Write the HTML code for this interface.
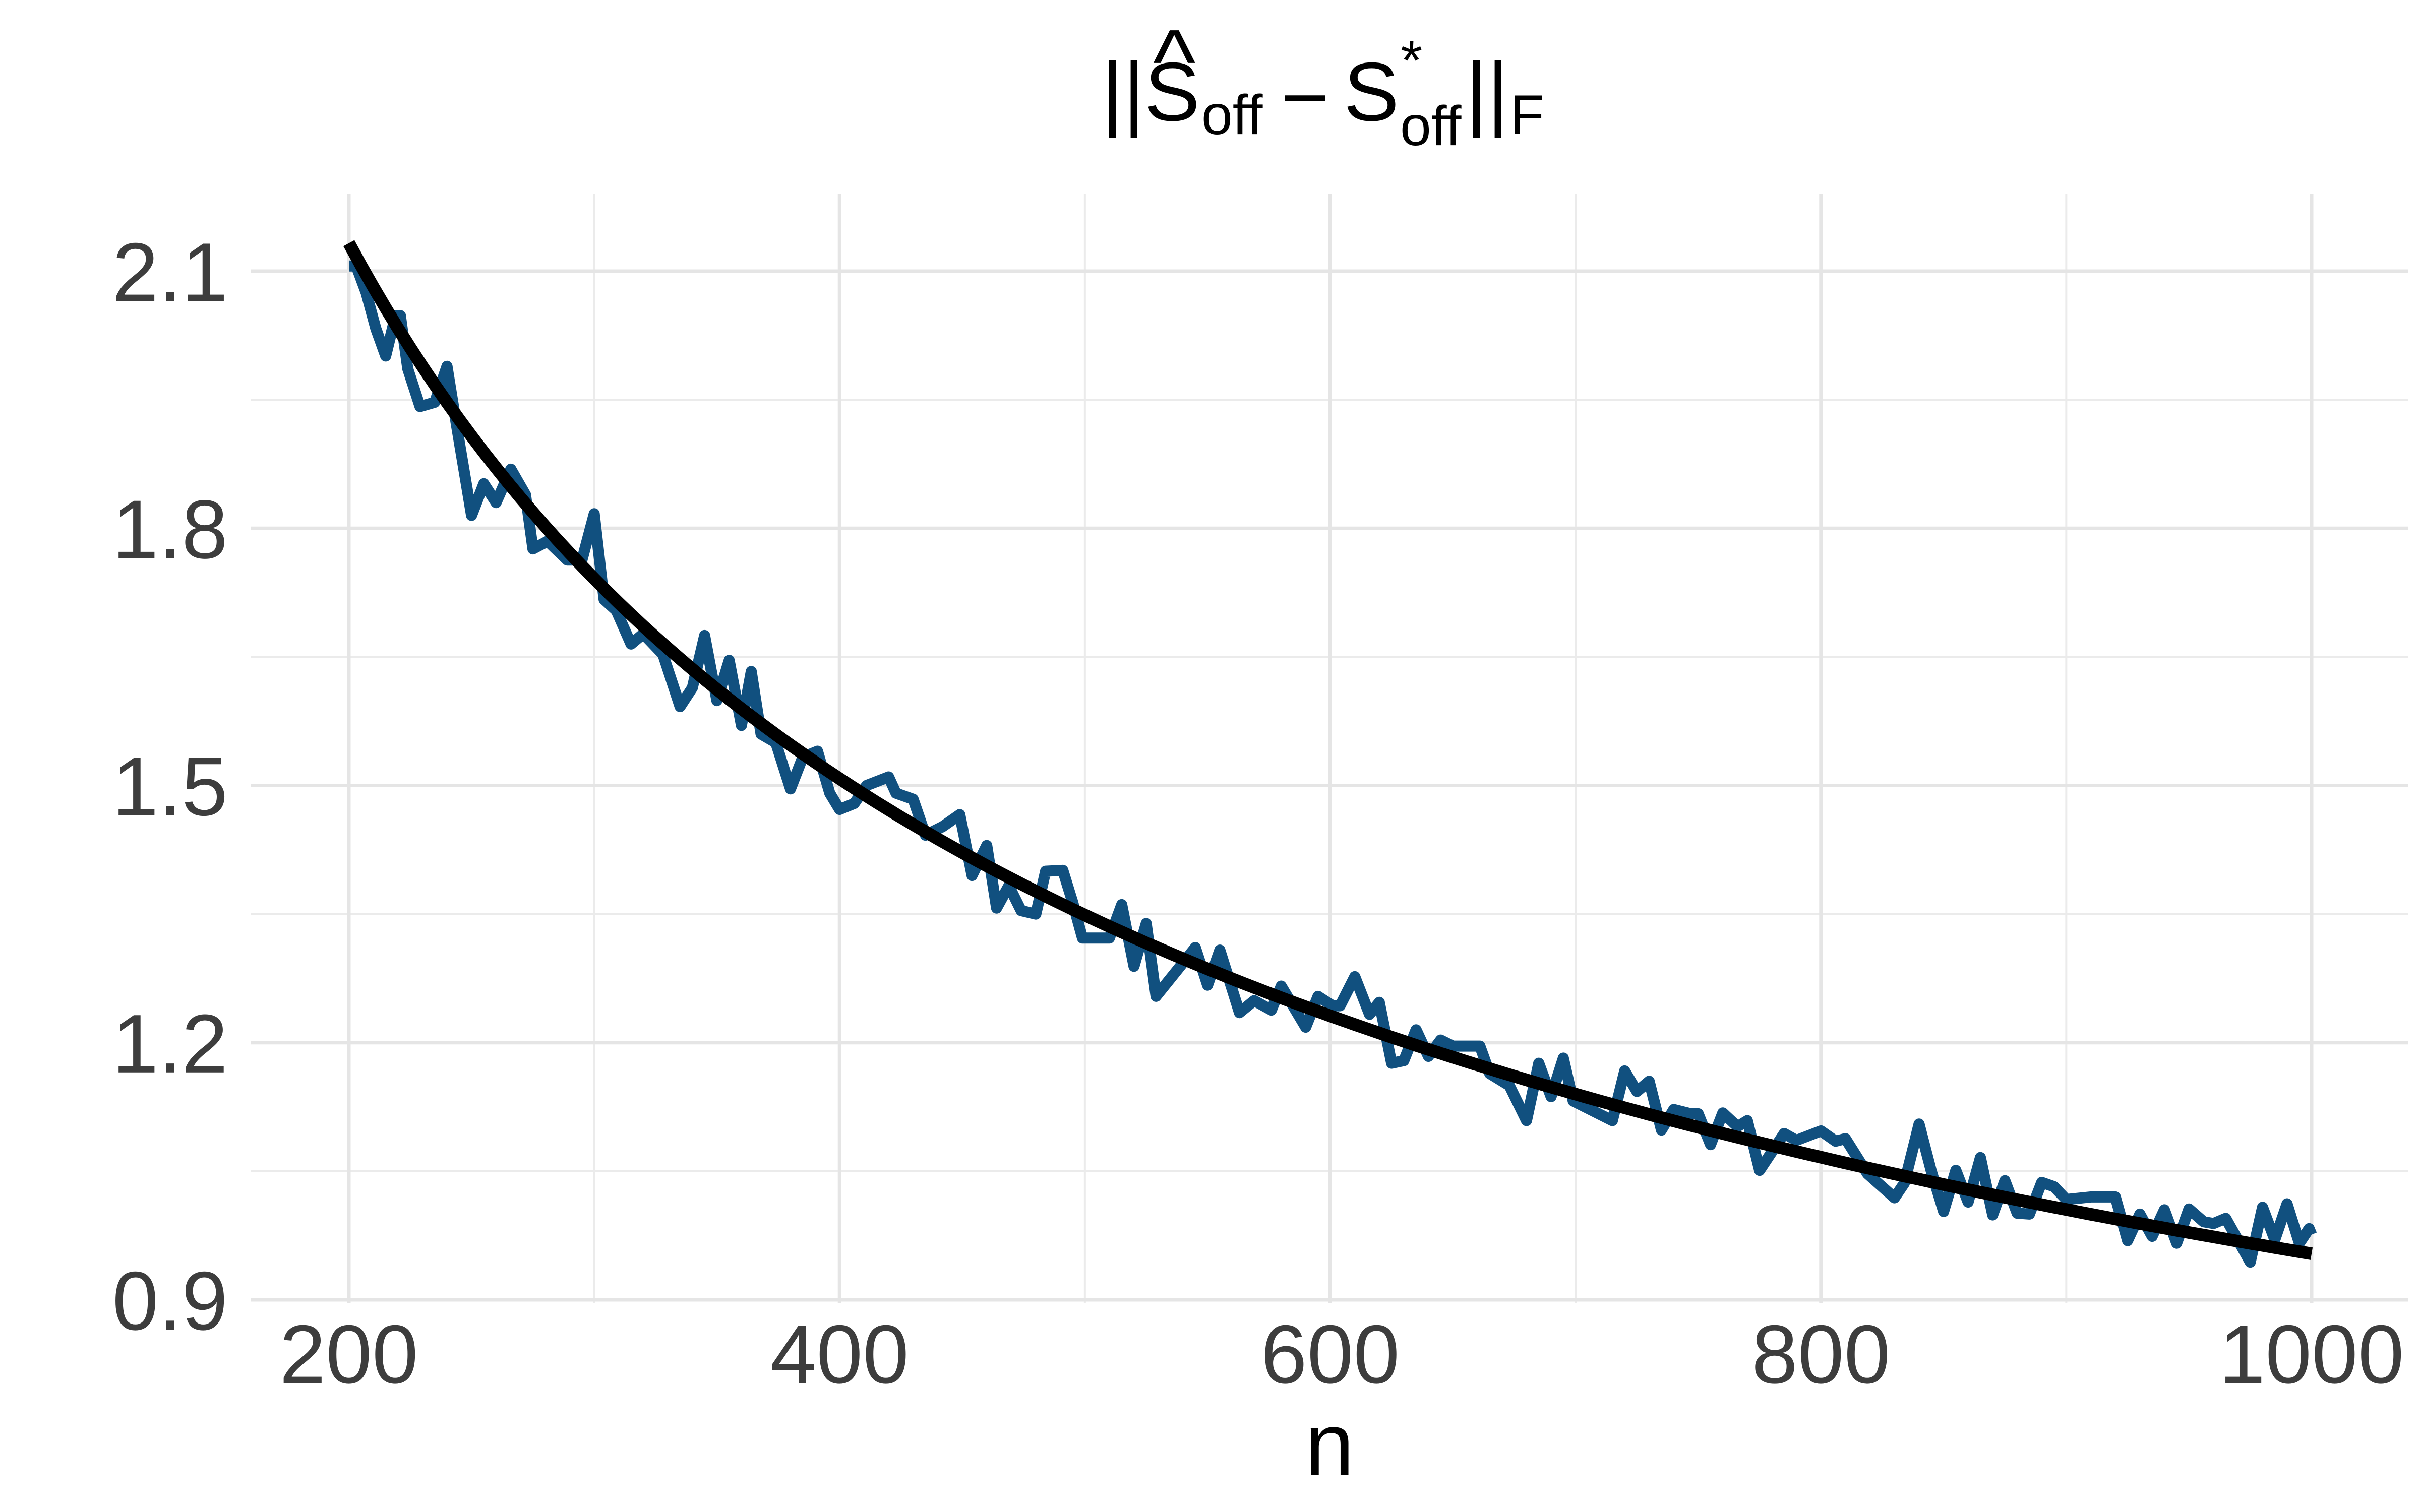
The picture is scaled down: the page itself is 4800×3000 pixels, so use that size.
<!DOCTYPE html>
<html><head><meta charset="utf-8">
<style>
html,body{margin:0;padding:0;background:#fff;}
svg{display:block;}
text{font-family:"Liberation Sans",Arial,sans-serif;}
</style></head>
<body>
<svg id="chart" width="4800" height="3000" viewBox="0 0 4800 3000" xmlns="http://www.w3.org/2000/svg">
<rect width="4800" height="3000" fill="#fff"/>
<g id="grid"></g>
<g id="series"></g>
<g id="axes"></g>
<g id="title" fill="#000">
  <text x="2185" y="239" font-size="165">||</text>
  <text x="2287" y="184" font-size="180">^</text>
  <text x="2270" y="239" font-size="165">S</text>
  <text x="2383" y="266" font-size="111">off</text>
  <text x="2540" y="250" font-size="165">−</text>
  <text x="2665" y="239" font-size="165">S</text>
  <text x="2778" y="158" font-size="111">*</text>
  <text x="2777" y="288" font-size="111">off</text>
  <text x="2907" y="239" font-size="165">||</text>
  <text x="2995" y="266" font-size="111">F</text>
</g>
</svg>
<script>
const nValues = [200,203,207,211,215,219,221,224,229,235,240,244,250,255,260,266,272,275,281,289,295,300,304,309,315,320,328,335,340,345,350,355,360,364,368,374,380,385,391,396,400,406,411,420,423,430,435,442,449,454,460,464,469,474,480,484,491,495,499,510,515,520,525,529,538,545,550,555,563,569,576,580,590,595,601,604,610,616,620,625,630,635,640,645,650,661,665,673,680,685,690,695,699,715,720,725,730,735,740,747,750,755,760,766,770,775,785,790,800,806,810,819,830,834,840,845,850,855,860,865,870,875,880,885,890,895,900,910,920,925,930,935,940,945,950,956,960,965,975,980,985,990,995,999,1000];
const errValues = [2.106,2.106,2.075,2.033,2.001,2.048,2.048,1.986,1.942,1.947,1.989,1.918,1.815,1.852,1.830,1.869,1.839,1.776,1.785,1.763,1.763,1.817,1.717,1.704,1.665,1.677,1.653,1.592,1.614,1.675,1.599,1.646,1.570,1.633,1.560,1.550,1.496,1.533,1.540,1.491,1.472,1.479,1.500,1.510,1.491,1.484,1.442,1.452,1.466,1.395,1.430,1.357,1.383,1.354,1.350,1.400,1.401,1.364,1.322,1.322,1.361,1.289,1.339,1.254,1.286,1.311,1.267,1.308,1.235,1.249,1.238,1.266,1.218,1.254,1.243,1.243,1.277,1.233,1.247,1.176,1.179,1.215,1.184,1.203,1.196,1.196,1.164,1.150,1.109,1.176,1.137,1.182,1.132,1.109,1.167,1.143,1.155,1.098,1.122,1.117,1.117,1.081,1.118,1.102,1.109,1.051,1.094,1.086,1.097,1.085,1.088,1.047,1.019,1.036,1.105,1.050,1.003,1.051,1.014,1.066,0.999,1.039,1.001,1.000,1.037,1.032,1.017,1.020,1.020,0.969,1.000,0.974,1.005,0.966,1.006,0.991,0.989,0.995,0.944,1.008,0.970,1.012,0.966,0.983,0.976];
const fitCoef = [30.16];
const xTicks = [200,400,600,800,1000];
const xMinor = [300,500,700,900];
const yTicks = [0.9,1.2,1.5,1.8,2.1];
const yMinor = [1.05,1.35,1.65,1.95];

const NS = "http://www.w3.org/2000/svg";
const X0 = 692, X1 = 4585, Y0 = 2579, Y1 = 538;
function xs(n){ return X0 + (n-200)/(1000-200)*(X1-X0); }
function ys(v){ return Y0 - (v-0.9)/(2.1-0.9)*(Y0-Y1); }
const PL = 498, PR = 4776, PT = 385, PB = 2585;

function mk(tag, attrs, parent){
  const e = document.createElementNS(NS, tag);
  for (const k in attrs) e.setAttribute(k, attrs[k]);
  parent.appendChild(e);
  return e;
}
const grid = document.getElementById('grid');
const axes = document.getElementById('axes');
const series = document.getElementById('series');

yMinor.forEach(v=>{
  const l = mk('line',{x1:PL,x2:PR,y1:ys(v),y2:ys(v),stroke:'#ebebeb','stroke-width':4},grid);
  
  
});
xMinor.forEach(n=>{
  const l = mk('line',{x1:xs(n),x2:xs(n),y1:PT,y2:PB,stroke:'#ebebeb','stroke-width':4},grid);
  
  
});
yTicks.forEach(v=>{
  const l = mk('line',{x1:PL,x2:PR,y1:ys(v),y2:ys(v),stroke:'#e5e5e5','stroke-width':7},grid);
  
  
  const t = mk('text',{x:452,y:ys(v)+59,'text-anchor':'end','font-size':165,fill:'#3d3d3d'},axes);
  t.textContent = v.toFixed(1);
  
  
});
xTicks.forEach(n=>{
  const l = mk('line',{x1:xs(n),x2:xs(n),y1:PT,y2:PB,stroke:'#e5e5e5','stroke-width':7},grid);
  
  
  const t = mk('text',{x:xs(n),y:2744,'text-anchor':'middle','font-size':165,fill:'#3d3d3d'},axes);
  t.textContent = String(n);
  
  
});
const xl = mk('text',{x:(PL+PR)/2,y:2926,'text-anchor':'middle','font-size':176,fill:'#000'},axes);
xl.textContent = 'n';



let d = '';
nValues.forEach((n,i)=>{ d += (i?'L':'M') + xs(n).toFixed(1) + ',' + ys(errValues[i]).toFixed(1); });
const p = mk('path',{d:d,fill:'none',stroke:'#11507f','stroke-width':22,'stroke-linejoin':'round','stroke-linecap':'butt'},series);



let fd = '';
for (let n=200; n<=1000; n+=5){ fd += (n===200?'M':'L') + xs(n).toFixed(1) + ',' + ys(fitCoef[0]/Math.sqrt(n)).toFixed(1); }
const f = mk('path',{d:fd,fill:'none',stroke:'#000','stroke-width':25,'stroke-linejoin':'round','stroke-linecap':'butt'},series);


</script>
</body></html>
